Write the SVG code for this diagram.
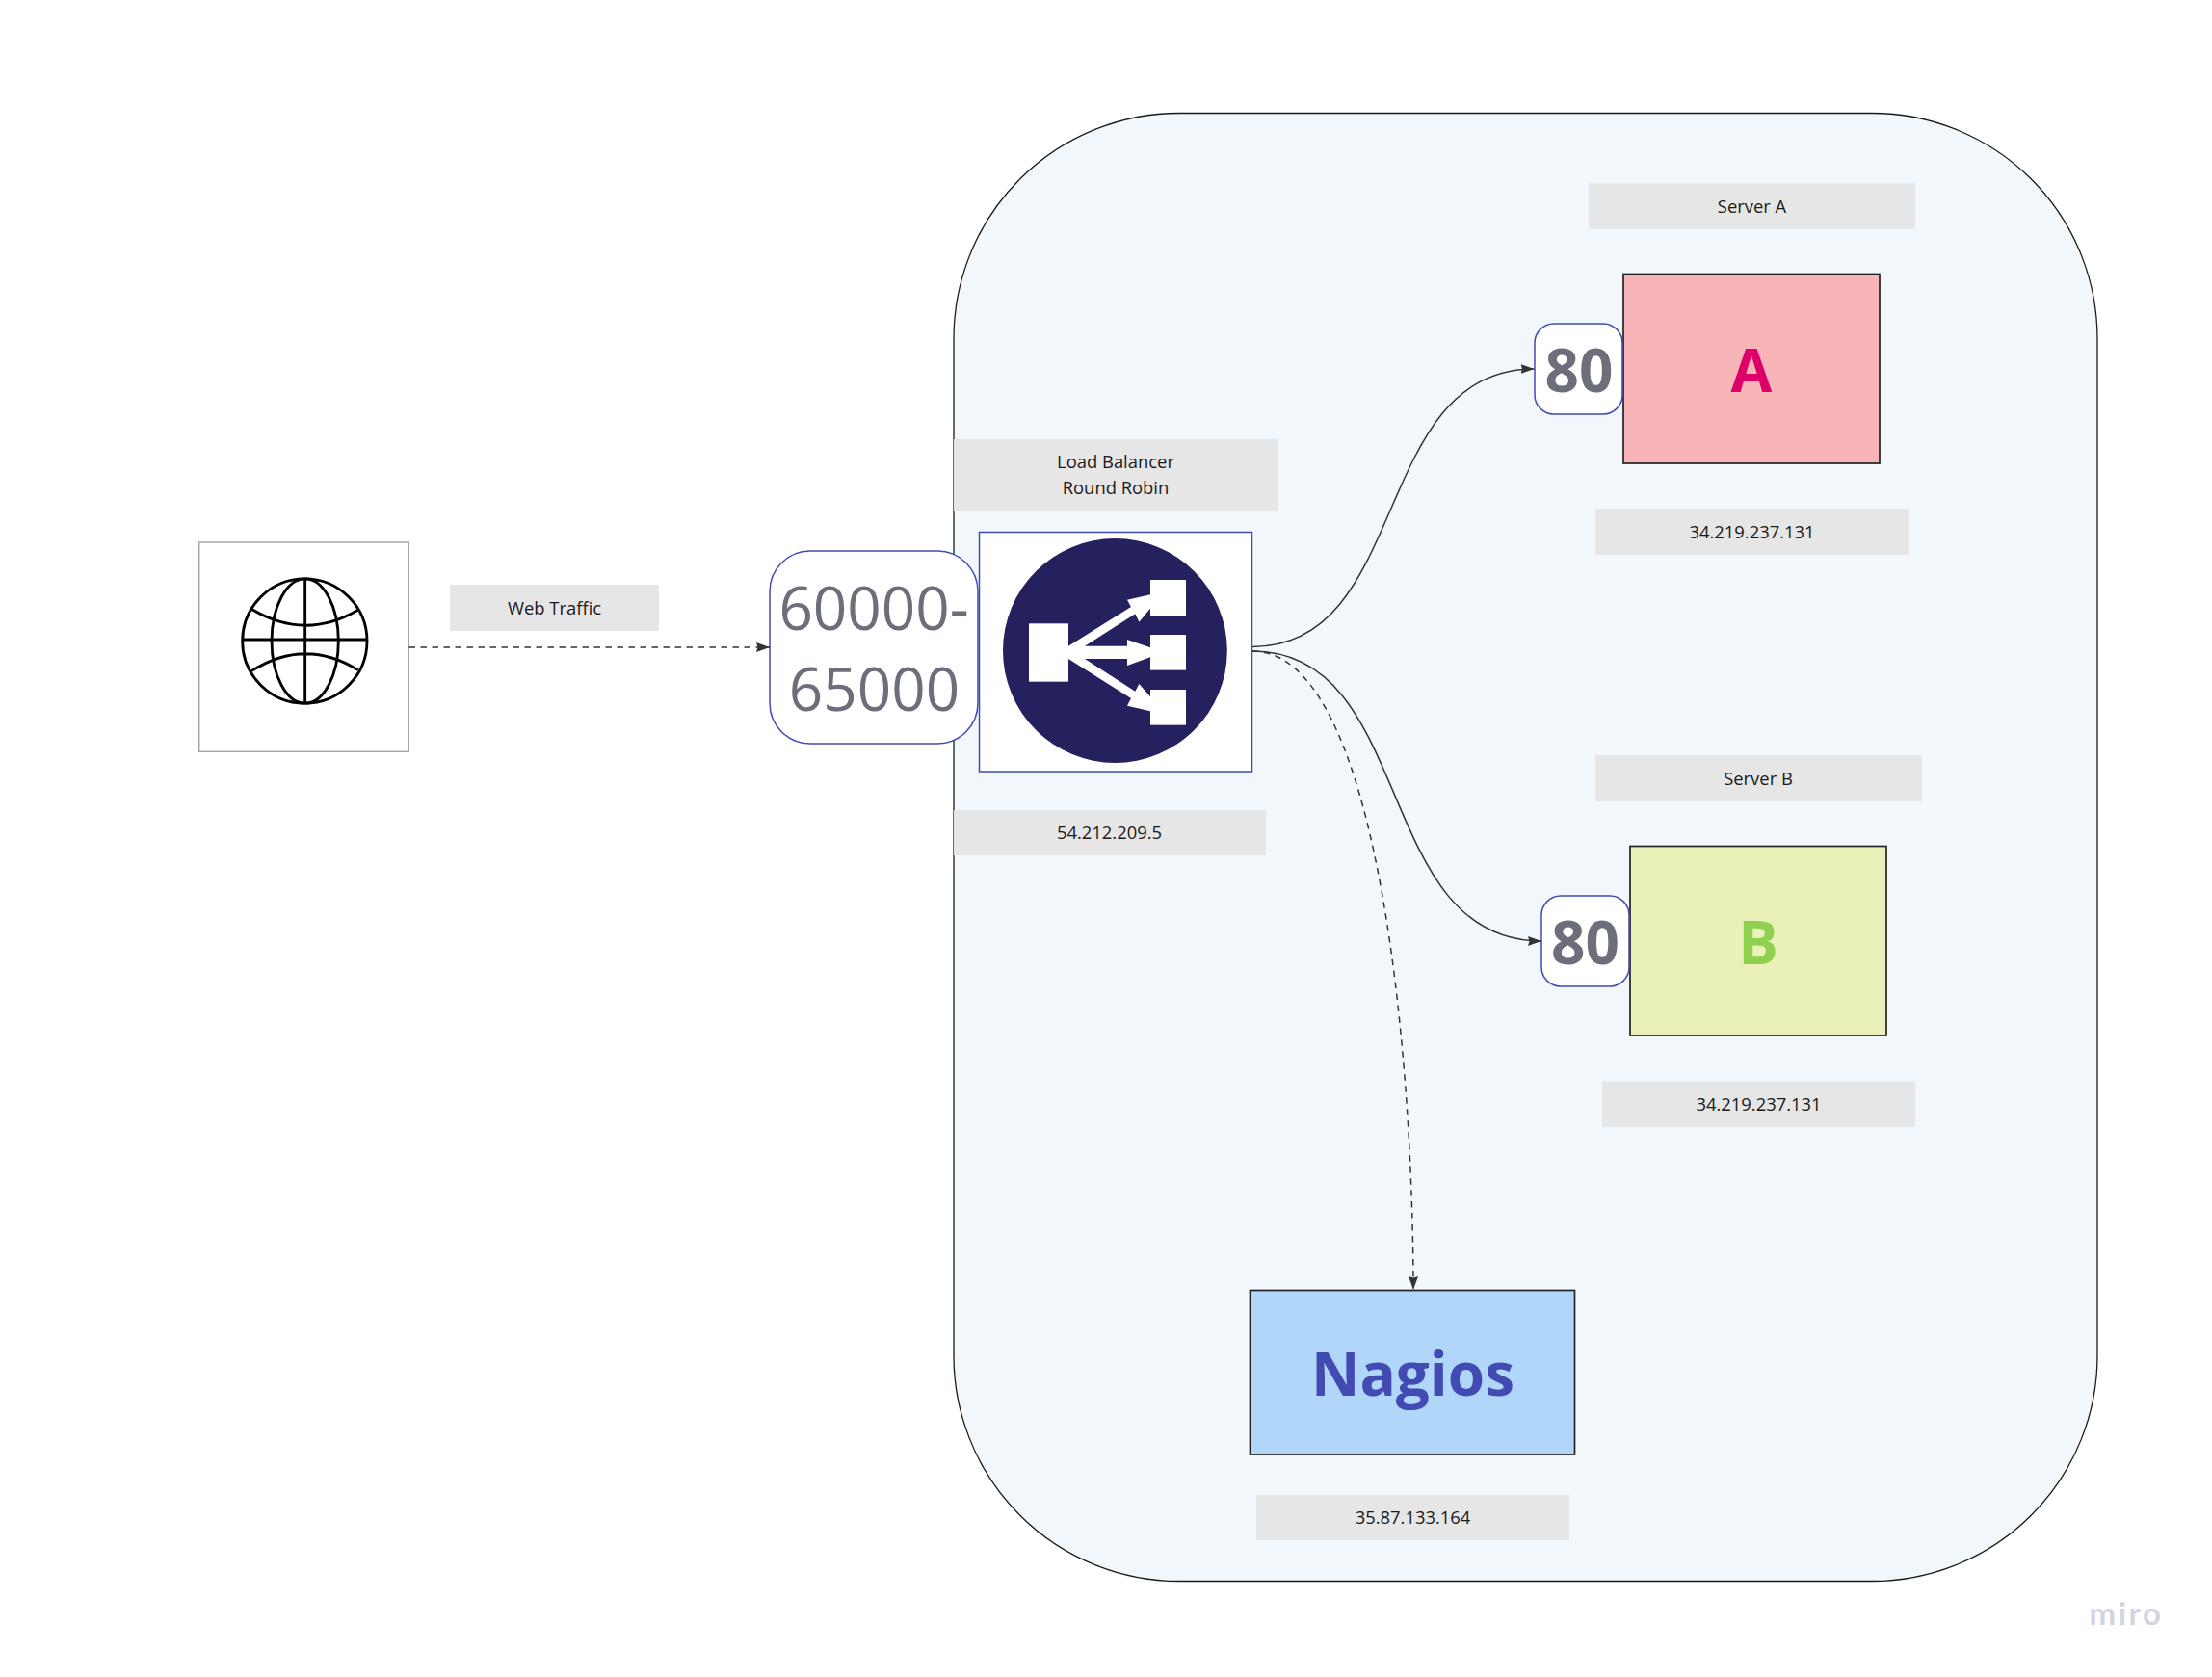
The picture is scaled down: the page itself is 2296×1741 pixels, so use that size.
<svg xmlns="http://www.w3.org/2000/svg" width="2296" height="1741" viewBox="0 0 2296 1741">
<style>
text{font-family:"Open Sans","Noto Sans","Liberation Sans",sans-serif;text-anchor:middle}
.lab{fill:#e6e6e6}
.lt{font-size:18.400px;fill:#1a1a1a}
.port{fill:#fff;stroke:#414bb2;stroke-width:1.5}
.portt{font-size:62px;fill:#6c6f7a}
.b{font-weight:700}
.srv{stroke:#222;stroke-width:1.7}
.conn{fill:none;stroke:#333;stroke-width:1.5}
.dash{stroke-dasharray:6.500 5.500}
</style>
<defs>
<marker id="ah" markerUnits="userSpaceOnUse" markerWidth="14" markerHeight="10" refX="14" refY="5" orient="auto"><path d="M0 0L14 5L0 10L1.500 5Z" fill="#333"/></marker>
</defs>
<rect width="2296" height="1741" fill="#fff"/>
<g id="vpc"><rect x="990" y="117.500" width="1187" height="1524" rx="234" ry="234" fill="#f2f7fb" stroke="#1a1a1a" stroke-width="1.300"/></g>
<g id="internet">
<rect x="206.700" y="563" width="217.600" height="217.300" fill="#fff" stroke="#a6a6a6" stroke-width="1.500"/>
<g transform="translate(200 555) scale(.33333)" fill="none" stroke="#000" stroke-width="8.500">
<circle cx="349" cy="331.500" r="194"/>
<ellipse cx="350" cy="331.500" rx="104" ry="194"/>
<path d="M350 136V527M153 327H545M183 232Q350 332 515 235M183 425Q350 319 515 422"/>
</g>
</g>
<g id="web-traffic"><rect class="lab" x="467" y="607" width="217" height="48"/><text class="lt" x="575.500" y="637.500">Web Traffic</text></g>
<g id="lb-label"><rect class="lab" x="990" y="456" width="337" height="74"/><text class="lt" x="1158" y="485.500">Load Balancer</text><text class="lt" x="1158" y="512.500">Round Robin</text></g>
<g id="lb-ports"><rect class="port" x="799" y="572" width="216" height="200" rx="42" ry="42"/><text class="portt" x="907" y="654">60000-</text><text class="portt" x="907.500" y="738">65000</text></g>
<g id="lb">
<rect x="1016.500" y="552.500" width="283" height="248.500" fill="#fff" stroke="#414bb2" stroke-width="1.500"/>
<circle cx="1157.400" cy="675.500" r="116.400" fill="#25215f"/>
<g transform="translate(1030 550) scale(.33333)" fill="#fff">
<rect x="114" y="292" width="123" height="181"/>
<rect x="492" y="156" width="111" height="111"/><rect x="492" y="327" width="111" height="110"/><rect x="492" y="498" width="111" height="110"/>
<polygon points="237,362 432,240 420,218 492,202 492,245 457,287 445,262 288,362 420,362 420,342 492,367 492,397 420,423 420,402 288,402 445,503 457,480 492,520 492,565 420,548 432,525 237,402"/>
</g>
</g>
<g id="lb-ip"><rect class="lab" x="990" y="841" width="324" height="47"/><text class="lt" x="1151.500" y="871">54.212.209.5</text></g>
<g id="server-a-label"><rect class="lab" x="1649" y="190.500" width="339" height="47.500"/><text class="lt" x="1818.500" y="220.500">Server A</text></g>
<g id="server-a"><rect class="srv" x="1685" y="284.500" width="266" height="196.500" fill="#f8b5b7"/><text class="b" x="1818" y="407" font-size="62" fill="#de0069">A</text></g>
<g id="port-a"><rect class="port" x="1593" y="336" width="91" height="94" rx="20" ry="20"/><text class="portt b" x="1639" y="407">80</text></g>
<g id="server-a-ip"><rect class="lab" x="1656" y="528" width="325" height="48"/><text class="lt" x="1818.500" y="558.500">34.219.237.131</text></g>
<g id="server-b-label"><rect class="lab" x="1656" y="784" width="339" height="48"/><text class="lt" x="1825" y="814.500">Server B</text></g>
<g id="server-b"><rect class="srv" x="1692" y="878.500" width="266" height="196.500" fill="#e9f1b9"/><text class="b" x="1825" y="1001" font-size="62" fill="#8fd14f">B</text></g>
<g id="port-b"><rect class="port" x="1600" y="930" width="91" height="94" rx="20" ry="20"/><text class="portt b" x="1645.500" y="1001">80</text></g>
<g id="server-b-ip"><rect class="lab" x="1663" y="1122.500" width="325" height="47.500"/><text class="lt" x="1825.500" y="1152.500">34.219.237.131</text></g>
<g id="nagios"><rect class="srv" x="1297.500" y="1339.500" width="337" height="170.500" fill="#b0d6f9"/><text class="b" x="1466.500" y="1449" font-size="62" fill="#414bb2">Nagios</text></g>
<g id="nagios-ip"><rect class="lab" x="1304" y="1552" width="325" height="47"/><text class="lt" x="1466.500" y="1582">35.87.133.164</text></g>
<g id="connectors">
<path class="conn dash" d="M424.500 672H799" marker-end="url(#ah)"/>
<path class="conn" d="M1300 671.500C1465 671.500 1422 383 1592.500 383" marker-end="url(#ah)"/>
<path class="conn" d="M1300 676C1470 676 1425 977 1600 977" marker-end="url(#ah)"/>
<path class="conn dash" d="M1300 676C1435 676 1467 1120 1467 1339" marker-end="url(#ah)"/>
</g>
<text x="2207" y="1687" font-size="33" font-weight="700" letter-spacing="2.500" fill="#d4d4e1" style="font-family:Lato,'Noto Sans',sans-serif">miro</text>
</svg>
